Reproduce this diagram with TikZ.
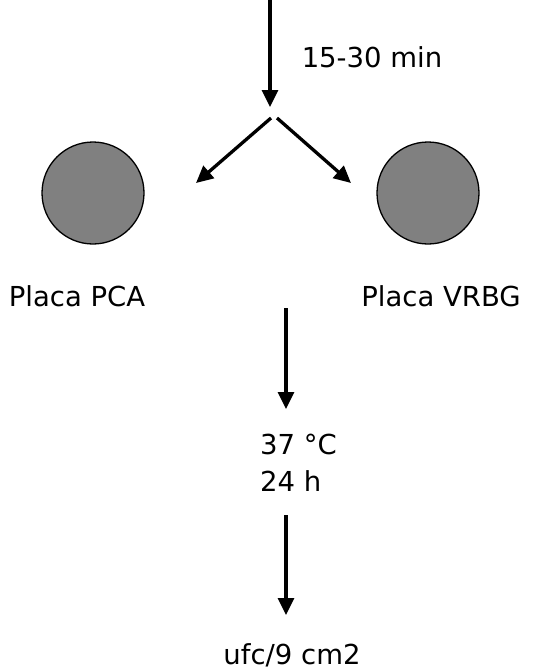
\documentclass[tikz,border=0pt]{standalone}
\usepackage{fontspec}
\setmainfont{DejaVu Sans}
\usetikzlibrary{arrows.meta}
\begin{document}
\begin{tikzpicture}[x=1pt,y=-1pt,
  flow/.style={line width=3.3pt,-{Triangle[length=17pt,width=16pt]}},
  plate/.style={circle,draw=black,line width=1.3pt,fill=black!50,minimum size=102pt,inner sep=0pt},
  lbl/.style={font=\fontsize{27.5}{37}\selectfont,inner sep=0pt}]
  \useasboundingbox (0,0) rectangle (544,672);
  % feed and split
  \coordinate (src) at (270,0);
  \coordinate (rest) at (270,107);
  \draw[flow] (src) -- (rest);
  \node[lbl] (time) at (372,57) {15-30 min};
  \coordinate (splitL) at (271,118);
  \coordinate (splitR) at (277,118);
  \coordinate (tipL) at (196,183);
  \coordinate (tipR) at (351,183);
  \draw[flow] (splitL) -- (tipL);
  \draw[flow] (splitR) -- (tipR);
  % plates
  \node[plate] (pca) at (93,193) {};
  \node[plate] (vrbg) at (428,193) {};
  \node[lbl] (pcaL) at (77,296) {Placa PCA};
  \node[lbl] (vrbgL) at (441,296) {Placa VRBG};
  % incubation
  \coordinate (inc0) at (286,308);
  \coordinate (inc1) at (286,409);
  \draw[flow] (inc0) -- (inc1);
  \node[lbl,anchor=west,align=left] (cond) at (260,463) {37 °C\\24 h};
  \coordinate (cnt0) at (286,515);
  \coordinate (cnt1) at (286,615);
  \draw[flow] (cnt0) -- (cnt1);
  \node[lbl] (result) at (292,655) {ufc/9 cm2};
\end{tikzpicture}
\end{document}
